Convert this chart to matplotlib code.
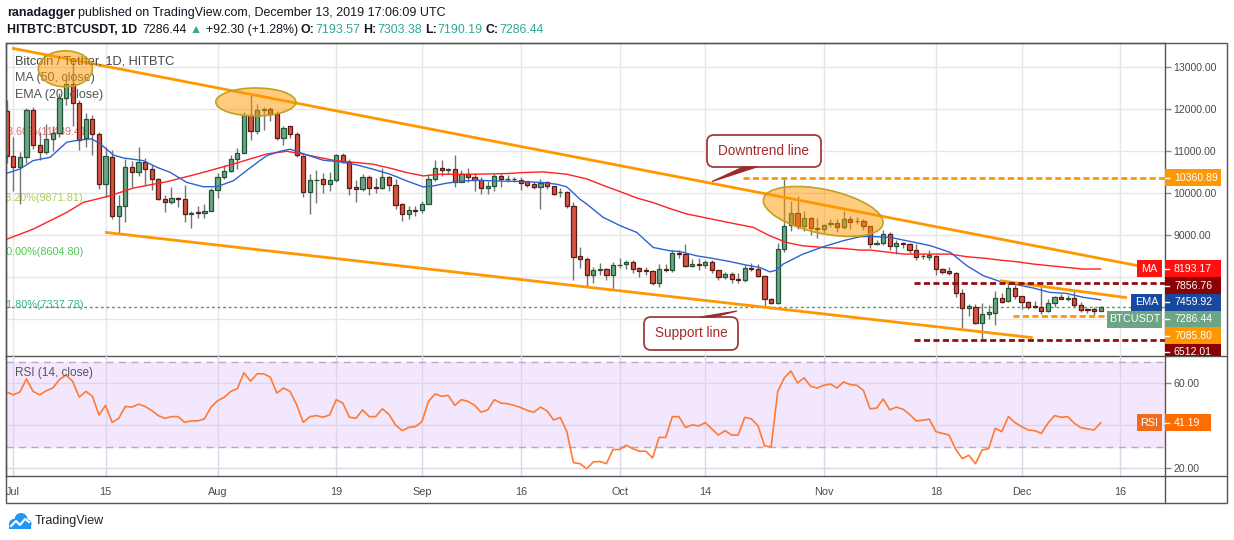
import numpy as np
import matplotlib
matplotlib.use("Agg")
import matplotlib.pyplot as plt
from matplotlib.patches import Rectangle, Ellipse, FancyBboxPatch, Polygon, Circle
from matplotlib.lines import Line2D
from matplotlib.transforms import IdentityTransform, Bbox

FONT = ['Liberation Sans', 'DejaVu Sans']
plt.rcParams['font.family'] = FONT

W, H = 1234, 540

# ---- 日线 K 线 (2019-06-30 ~ 2019-12-13), 第一根 = 第 -1 天 ----
first_day = -1
opens = [
    11950, 10887, 10609, 10863, 11960, 11141, 10966, 11284, 11427, 12263, 12582, 12143, 11300, 11761, 11400, 10211,
    10863, 9456, 9695, 10609, 10505, 10744, 10569, 10330, 9853, 9774, 9877, 9860, 9490, 9551, 9512, 9575,
    10068, 10386, 10513, 10807, 10950, 11841, 11483, 11976, 12000, 11880, 11308, 11580, 11397, 10881, 10031, 10301,
    10325, 10206, 10301, 10897, 10746, 10143, 10087, 10381, 10143, 10127, 10381, 10182, 9730, 9492, 9595,
    9587, 9730, 10325, 10587, 10555, 10563, 10270, 10444, 10381, 10301, 10111, 10158, 10405, 10325, 10320,
    10317, 10277, 10206, 10143, 10261, 10166, 10023, 10023, 9682, 8500, 8426, 8044, 8164, 8187, 8044,
    8283, 8307, 8362, 8211, 8160, 8148, 7853, 8203, 8164, 8577, 8545, 8267, 8307, 8283, 8362, 8164,
    7997, 8068, 7960, 7941, 8227, 8187, 8020, 7488, 7392, 8664, 9237, 9523, 9213, 9404, 9157,
    9141, 9261, 9292, 9197, 9380, 9323, 9339, 9204, 8784, 8816, 9022, 8737, 8816, 8776, 8642,
    8490, 8483, 8507, 8190, 8135, 8095, 7620, 7263, 7295, 6899, 7121, 7137, 7501, 7422, 7739,
    7549, 7414, 7303, 7295, 7200, 7374, 7517, 7469, 7501, 7335, 7240, 7232, 7193.57,
]
highs = [
    12200, 11324, 10980, 12010, 12050, 11450, 11640, 11600, 12380, 12800, 13200, 12200, 11900, 11850, 11450, 11100,
    11030, 9950, 10800, 10750, 11080, 10820, 10670, 10360, 9950, 10150, 9900, 10180, 9580, 9700, 9730, 10110,
    10470, 10660, 10900, 11070, 11920, 12320, 12120, 12050, 12050, 11950, 11600, 11600, 11450, 10900, 10440, 10540,
    10470, 10500, 10930, 10950, 10800, 10300, 10450, 10420, 10350, 10600, 10400, 10320, 9750, 9680, 9690,
    9800, 10440, 10790, 10780, 10600, 10900, 10540, 10590, 10480, 10380, 10290, 10450, 10440, 10420, 10380,
    10370, 10280, 10250, 10320, 10280, 10170, 10120, 10050, 9790, 8720, 8480, 8240, 8330, 8220, 8350,
    8450, 8400, 8400, 8240, 8230, 8170, 8300, 8320, 8650, 8640, 8780, 8420, 8450, 8400, 8410, 8170,
    8120, 8110, 8100, 8290, 8330, 8300, 8040, 7500, 8800, 10374, 9800, 9920, 9560, 9430, 9400,
    9270, 9380, 9380, 9560, 9460, 9420, 9370, 9220, 8870, 9120, 9060, 8880, 8830, 8800, 8790,
    8540, 8640, 8520, 8220, 8230, 8130, 7720, 7360, 7350, 7380, 7340, 7660, 7620, 7870, 7810,
    7560, 7430, 7420, 7770, 7490, 7560, 7600, 7570, 7690, 7400, 7270, 7300, 7303.38,
]
lows = [
    10700, 10052, 9734, 10700, 11050, 10790, 10930, 11000, 11330, 12080, 11585, 11030, 11100, 10900, 10100, 9893,
    9380, 9058, 9300, 10150, 10400, 10200, 10080, 9820, 9540, 9730, 9660, 9300, 9160, 9400, 9410, 9560,
    9870, 10330, 10500, 10560, 10950, 11250, 11410, 11500, 11700, 11250, 11150, 11300, 10850, 9910, 9508, 9770,
    9990, 10050, 10260, 10700, 9960, 9790, 10050, 9950, 10000, 10100, 10050, 9620, 9330, 9380, 9450,
    9520, 9730, 10290, 10400, 10450, 10150, 10250, 10250, 10050, 9980, 9970, 10040, 10150, 10270, 10270,
    10060, 10150, 10100, 9620, 10090, 9950, 9900, 9640, 7930, 8220, 7760, 7860, 8050, 7930, 7710,
    8220, 8200, 8100, 8000, 8050, 7800, 7770, 8110, 8120, 8450, 8230, 8230, 8160, 8220, 8100, 7930,
    7950, 7850, 7870, 7880, 8150, 7990, 7300, 7350, 7360, 8600, 9100, 9150, 9100, 9000, 8920,
    9050, 9200, 9080, 9150, 9140, 9250, 9110, 8700, 8760, 8760, 8650, 8560, 8700, 8580, 8400,
    8430, 8400, 8050, 8080, 8050, 7520, 6780, 7080, 6880, 6540, 7000, 6850, 7380, 7400, 7470,
    7240, 7250, 7270, 7130, 7170, 7300, 7470, 7420, 7300, 7170, 7150, 7100, 7190.19,
]
closes = [
    10887, 10609, 10863, 11960, 11141, 10966, 11284, 11427, 12263, 12582, 12143, 11267, 11761, 11400, 10211, 10887,
    9456, 9695, 10609, 10505, 10744, 10569, 10330, 9853, 9774, 9877, 9860, 9500, 9520, 9512, 9575, 10068,
    10370, 10513, 10807, 10950, 11841, 11483, 11976, 11990, 11880, 11308, 11547, 11404, 10897, 10031, 10301, 10317,
    10206, 10301, 10897, 10746, 10127, 10087, 10381, 10127, 10127, 10381, 10182, 9706, 9492, 9587, 9580,
    9730, 10325, 10587, 10555, 10563, 10270, 10444, 10381, 10301, 10111, 10158, 10405, 10325, 10330, 10330,
    10245, 10182, 10143, 10245, 10166, 9984, 10031, 9690, 8483, 8426, 8044, 8164, 8187, 8044, 8283,
    8291, 8362, 8203, 8148, 8148, 7853, 8187, 8164, 8569, 8545, 8267, 8307, 8283, 8362, 8164, 7997,
    8068, 7949, 7941, 8211, 8187, 8020, 7472, 7392, 8664, 9213, 9523, 9213, 9404, 9165, 9141,
    9245, 9292, 9197, 9380, 9316, 9339, 9204, 8784, 8816, 9022, 8737, 8816, 8776, 8642, 8483,
    8510, 8515, 8190, 8127, 8095, 7620, 7263, 7319, 6899, 7121, 7176, 7501, 7398, 7739, 7556,
    7398, 7295, 7279, 7200, 7374, 7517, 7469, 7501, 7335, 7224, 7216, 7194.14, 7286.44,
]

# MA(50) / EMA(20)，按图读取的采样点
ma_days = [-1, 3, 8.1, 10.6, 14.7, 18.2, 23.3, 28.3, 33.4, 38.5, 41.5, 44.5, 48.5, 52.1, 54.6, 57.2,
           59.7, 62.2, 64.8, 69.9, 74.9, 77.4, 80.4, 84.0, 86.0, 87.0, 89.5, 92.1, 94.6, 97.1, 99.6,
           102.2, 104.7, 107.2, 109.7, 112.3, 114.8, 117.3, 119.8, 122.9, 125.9, 128.5, 130.0, 133.1,
           135.1, 139.7, 142.2, 144.7, 147.2, 149.7, 152.3, 154.8, 157.3, 159.8, 162.4, 165]
ma_vals = [8900, 9138, 9536, 9774, 9933, 10116, 10267, 10466, 10688, 10927, 10990, 10905, 10778, 10722,
           10682, 10587, 10484, 10405, 10444, 10444, 10460, 10484, 10500, 10444, 10370, 10334, 10180,
           10030, 9880, 9770, 9630, 9499, 9420, 9340, 9261, 9181, 8982, 8823, 8744, 8704, 8680, 8641,
           8642, 8586, 8546, 8546, 8546, 8483, 8451, 8404, 8364, 8309, 8269, 8230, 8190, 8193.17]
ema_days = [-1, 1, 3, 5.6, 8.1, 10.1, 11.9, 13.2, 15.2, 16.7, 19.7, 21.8, 23.8, 26.3, 28.8, 30.9, 33.4,
            35.4, 37.4, 38.5, 40.5, 42.0, 44.5, 47.0, 49.6, 52.1, 54.6, 57.2, 59.7, 62.2, 63.7, 65.7,
            68.3, 70.3, 73.3, 77.4, 80.4, 82.5, 84.0, 86.0, 87.0, 89.5, 92.1, 94.6, 97.1, 99.6, 101.1,
            103.7, 106.2, 108.7, 111.3, 113.3, 114.8, 115.8, 116.8, 119.8, 122.9, 125.9, 128.5, 130.0,
            133.1, 136.1, 139.2, 142.2, 144.7, 147.2, 149.7, 152.3, 154.8, 157.3, 159.8, 162.4, 165]
ema_vals = [10466, 10569, 10768, 10847, 11205, 11260, 11284, 11165, 10900, 10831, 10768, 10609, 10490,
            10251, 10148, 10148, 10290, 10530, 10768, 10887, 10990, 11040, 10905, 10778, 10738, 10667,
            10563, 10444, 10285, 10143, 10166, 10230, 10285, 10301, 10285, 10270, 10246, 10206, 10143,
            9849, 9738, 9420, 9221, 9062, 8704, 8625, 8609, 8505, 8442, 8370, 8283, 8227, 8124, 8164,
            8307, 8545, 8720, 8863, 8959, 8966, 8942, 8847, 8744, 8586, 8269, 8032, 7897, 7818, 7739,
            7636, 7612, 7517, 7459.92]

# RSI(14)，从第 -1 天起每日一值
rsi_vals = [
    55.7, 54.4, 55.7, 61.9, 56.0, 54.4, 56.3, 57.6, 61.6, 63.7, 60.8, 53.3, 56.0, 53.7, 44.9, 49.4,
    41.4, 43.3, 48.9, 48.6, 50.0, 48.9, 47.0, 44.6, 43.3, 44.1, 44.1, 41.4, 42.1, 42.1, 43.0, 48.6,
    51.6, 53.2, 56.0, 57.3, 64.8, 60.8, 64.3, 64.3, 62.7, 55.2, 57.6, 56.0, 49.7, 41.4, 44.1, 44.6,
    43.8, 44.9, 52.1, 50.5, 43.8, 43.3, 47.3, 44.1, 44.1, 47.8, 45.2, 40.2, 37.5, 39.0, 39.4,
    41.7, 51.3, 54.8, 53.7, 54.1, 49.4, 52.1, 51.3, 49.4, 46.2, 47.3, 52.1, 50.5, 50.2, 49.4,
    48.4, 47.0, 46.2, 48.6, 46.8, 42.5, 43.7, 37.0, 22.4, 21.9, 19.5, 22.7, 23.0, 21.9, 28.6,
    28.6, 30.6, 29.0, 27.8, 27.8, 24.6, 34.3, 34.3, 44.1, 44.1, 39.0, 40.2, 39.7, 41.3, 38.3, 35.4,
    37.5, 35.4, 35.4, 43.8, 43.0, 39.8, 30.3, 29.8, 56.0, 62.4, 65.6, 60.0, 62.4, 58.4, 57.6,
    58.9, 59.5, 57.6, 60.5, 59.2, 58.9, 56.5, 47.8, 48.1, 52.4, 47.3, 48.6, 47.6, 45.2, 42.1,
    42.4, 42.9, 37.0, 36.2, 35.4, 28.7, 24.3, 25.9, 21.9, 28.3, 29.0, 38.6, 37.0, 44.1, 41.3,
    39.4, 37.8, 37.5, 36.2, 41.0, 44.6, 43.8, 44.1, 41.0, 38.9, 38.3, 37.8, 41.19,
]

tick_days = [0, 14, 31, 49, 62, 77, 92, 105, 123, 140, 153, 168]
tick_labels = ['Jul', '15', 'Aug', '19', 'Sep', '16', 'Oct', '14', 'Nov', '18', 'Dec', '16']
price_ticks = [7000, 8000, 9000, 10000, 11000, 12000, 13000]

fib_labels = ['23.60%(11439.41)', '38.20%(9871.81)', '50.00%(8604.80)', '61.80%(7337.78)']
fib_prices = [11439.41, 9871.81, 8604.80, 7337.78]
fib_colors = ['#e06c6c', '#a9cf54', '#4fc94f', '#30b88a']

level_high = 10360.89
level_mid = 7856.76
level_low = 7085.80
level_floor = 6512.01
ma_last, ema_last, last_close, rsi_last = 8193.17, 7459.92, 7286.44, 41.19

# ---- 画布与坐标轴 ----
fig = plt.figure(figsize=(W / 100, H / 100), dpi=100)
fig.patch.set_facecolor('white')


def rect(x0, y0, x1, y1):
    return [x0 / W, 1 - y1 / H, (x1 - x0) / W, (y1 - y0) / H]


def P(x, y):
    # 顶部为原点的像素坐标 -> 显示坐标
    return (x, H - y)


ax = fig.add_axes(rect(6, 43, 1165, 356))
ax_rsi = fig.add_axes(rect(6, 356, 1165, 476), sharex=ax)

X0, DX = 13.3, 6.59
PY = 0.042075
ax.set_xlim((6 - X0) / DX, (1165 - X0) / DX)
ax.set_ylim(9000 - (356 - 235) / PY, 9000 + (235 - 43) / PY)
ax_rsi.set_ylim(16.1, 72.7)

FRAME = '#555555'
for a in (ax, ax_rsi):
    for s in a.spines.values():
        s.set_color(FRAME)
        s.set_linewidth(1)
    a.set_facecolor('none')
ax_rsi.spines['top'].set_visible(False)

ax.set_xticks(tick_days)
ax.tick_params(axis='x', length=0, labelbottom=False)
ax.grid(True, color='#e6e6e6', lw=1)
ax.set_axisbelow(True)
ax.yaxis.tick_right()
ax.set_yticks(price_ticks)
ax.set_yticklabels(['' if v < 9000 else f'{v:.2f}' for v in price_ticks])
ax.tick_params(axis='y', length=4, width=1, color='#8d8d8d', labelsize=7.6,
               labelcolor='#4a4a4a', pad=2)

ax_rsi.set_xticks(tick_days, tick_labels)
ax_rsi.tick_params(axis='x', length=0, pad=8, labelsize=7.8, labelcolor='#4a4a4a')
ax_rsi.yaxis.tick_right()
ax_rsi.set_yticks([20, 40, 60])
ax_rsi.set_yticklabels(['20.00', '', '60.00'])
ax_rsi.tick_params(axis='y', length=4, width=1, color='#8d8d8d', labelsize=7.6,
                   labelcolor='#4a4a4a', pad=2)
ax_rsi.grid(True, color='#ddd6e6', lw=1)
ax_rsi.set_axisbelow(True)

# ---- K 线 ----
days = np.arange(first_day, first_day + len(closes))
o, h, l, c = map(np.array, (opens, highs, lows, closes))
up = c >= o
ax.vlines(days, l, h, color='#737375', lw=1, zorder=2)
ax.bar(days[up], c[up] - o[up], bottom=o[up], width=0.64, color='#6ba583',
       edgecolor='#225437', lw=0.9, zorder=3)
ax.bar(days[~up], o[~up] - c[~up], bottom=c[~up], width=0.64, color='#d75442',
       edgecolor='#5b1a13', lw=0.9, zorder=3)

ax.plot(ma_days, ma_vals, color='#ff2020', lw=1, zorder=4)
ax.plot(ema_days, ema_vals, color='#2f62d0', lw=1, zorder=4)

# 斐波那契标签 (左侧被裁掉一部分)
fib_right = [90, 83.5, 84, 84]
for lab, pr, col, xr in zip(fib_labels, fib_prices, fib_colors, fib_right):
    ax.text((xr - X0) / DX, pr, lab, color=col, fontsize=7.8, ha='right', va='center',
            zorder=1.5, clip_on=True)

# 现价虚线
ax.axhline(last_close, color='#4e9a6a', lw=1, ls=(0, (2, 2)), zorder=2.5)

# 趋势线
ORANGE = '#ff9800'
DARKRED = '#8e1010'
ax.plot([-0.2, 171.0], [13440, 8260], color=ORANGE, lw=2, zorder=5, solid_capstyle='butt')
ax.plot([13.9, 154.7], [9064, 6560], color=ORANGE, lw=2, zorder=5, solid_capstyle='butt')
ax.plot([149.7, 169.0], [7914, 7510], color=ORANGE, lw=2, zorder=5, solid_capstyle='butt')

xr_end = (1165 - X0) / DX
ax.plot([110.7, xr_end], [level_high] * 2, color=ORANGE, lw=2, ls=(0, (2.2, 1.2)), zorder=5)
ax.plot([136.7, xr_end], [level_mid] * 2, color=DARKRED, lw=2, ls=(0, (2.2, 1.2)), zorder=5)
ax.plot([136.7, xr_end], [level_floor] * 2, color=DARKRED, lw=2, ls=(0, (2.2, 1.2)), zorder=5)
ax.plot([151.7, 166.0], [level_low] * 2, color=ORANGE, lw=2, ls=(0, (2.2, 1.2)), zorder=5)

# 图例文字
ID = IdentityTransform()
ax.text(*P(15, 61), 'Bitcoin / Tether, 1D, HITBTC', transform=ID, fontsize=9.2,
        color='#454545', va='center', zorder=5.5)
ax.text(*P(15, 78), 'MA (50, close)', transform=ID, fontsize=9, color='#555555',
        va='center', zorder=5.5)
ax.text(*P(15, 95), 'EMA (20, close)', transform=ID, fontsize=9, color='#555555',
        va='center', zorder=5.5)
ax_rsi.text(*P(15, 373), 'RSI (14, close)', transform=ID, fontsize=8.5, color='#555555',
            va='center', zorder=5)

# 椭圆标注
ell_spec = [(7.9, 12950, 54, 36, 0), (36.8, 12161, 80, 28, 0), (122.9, 9560, 122, 44, -12)]
for d, pr, w, hh, ang in ell_spec:
    cx, cy = ax.transData.transform((d, pr))
    ax.add_patch(Ellipse((cx, cy), w, hh, angle=ang, transform=ID, fc=(1.0, 0.6, 0.0, 0.5),
                         ec=(0.76, 0.63, 0.12), lw=1.2, zorder=6))


# 标注框
def callout(x0, y0, x1, y1, text, pointer):
    box = FancyBboxPatch(P(x0, y1), x1 - x0, y1 - y0, boxstyle='round,pad=0,rounding_size=7',
                         transform=ID, fc='white', ec='#a33b3b', lw=1.3, zorder=7)
    ax.add_patch(box)
    ax.add_patch(Polygon([P(*p) for p in pointer], closed=True, transform=ID,
                         fc='#9b2a2a', ec='#9b2a2a', lw=0.8, zorder=7.5))
    ax.text(*P((x0 + x1) / 2, (y0 + y1) / 2), text, transform=ID, fontsize=9.8,
            color='#a52a2a', ha='center', va='center', zorder=8)


callout(707, 135, 821, 167, 'Downtrend line', [(743, 167), (757, 167), (712, 181.5)])
callout(644, 317, 738, 350, 'Support line', [(700, 317), (714, 317), (737, 311)])

# RSI 面板
ax_rsi.axhspan(30, 70, color='#f3e7fd', zorder=0)
for lv in (30, 70):
    ax_rsi.axhline(lv, color='#b6aabf', lw=1, ls=(0, (5, 4)), zorder=1)
rsi_days = np.arange(first_day, first_day + len(rsi_vals))
ax_rsi.plot(rsi_days, rsi_vals, color='#ff7b33', lw=1.2, zorder=3)

# ---- 外框 ----
fig.add_artist(Rectangle(P(6, 503), 1221, 460, transform=ID, fill=False, ec=FRAME, lw=1))
fig.add_artist(Line2D([1165, 1227], [H - 356, H - 356], transform=ID, color=FRAME, lw=1))
fig.add_artist(Line2D([1165, 1227], [H - 476, H - 476], transform=ID, color=FRAME, lw=1))
fig.add_artist(Line2D([1165, 1165], [H - 503, H - 476], transform=ID, color=FRAME, lw=1))

# ---- 价格轴标签框 ----
main_clip = Bbox.from_extents(1100, H - 356, 1227, H - 43)


def axis_box(yc, text, color, x0=1165, w=56, tag=None, tag_x=None, tag_color=None, clip=None):
    r = Rectangle(P(x0, yc + 8.5), w, 17, transform=ID, fc=color, ec='none', zorder=3)
    fig.add_artist(r)
    tk = Line2D([x0, x0 + 4], [H - yc, H - yc], transform=ID, color='white', lw=1, zorder=4)
    fig.add_artist(tk)
    t = fig.text(*P(x0 + 9, yc), text, transform=ID, color='white', fontsize=7.6,
                 va='center', ha='left', zorder=5)
    arts = [r, tk, t]
    if tag:
        tr = Rectangle(P(tag_x, yc + 8.5), 1162 - tag_x, 17, transform=ID, fc=tag_color,
                       ec='none', zorder=3)
        fig.add_artist(tr)
        tt = fig.text(*P((tag_x + 1162) / 2, yc), tag, transform=ID, color='white',
                      fontsize=7.8, va='center', ha='center', zorder=5)
        arts += [tr, tt]
    if clip is not None:
        for a in arts:
            a.set_clip_box(clip)
            a.set_clip_on(True)


labels = [(level_high, '#ff9800', None, None), (ma_last, '#ff1010', 'MA', 1137),
          (level_mid, '#8b0000', None, None), (ema_last, '#1848a0', 'EMA', 1131),
          (last_close, '#6ba583', 'BTCUSDT', 1107), (level_low, '#ff9800', None, None),
          (level_floor, '#8b0000', None, None)]
prev = -100
for val, col, tag, tx in labels:
    ypx = H - ax.transData.transform((0, val))[1]
    ypx = max(ypx, prev + 16.7)
    prev = ypx
    axis_box(ypx, f'{val:.2f}', col, tag=tag, tag_x=tx, tag_color=col, clip=main_clip)

rsi_y = H - ax_rsi.transData.transform((0, rsi_last))[1]
axis_box(rsi_y, f'{rsi_last:.2f}', '#ff6d00', w=46, tag='RSI', tag_x=1137, tag_color='#f26b1d')

# ---- 顶部信息 ----
renderer = fig.canvas.get_renderer()


def draw_runs(x, y, runs, size):
    for txt, weight, color, gap in runs:
        t = fig.text(*P(x, y), txt, transform=ID, fontsize=size, fontweight=weight,
                     color=color, va='center', ha='left')
        x += t.get_window_extent(renderer).width + gap


DARK = '#131722'
TEAL = '#2fa89b'
sp = 3.3
draw_runs(7, 13, [('ranadagger', 'bold', DARK, sp),
                  ('published on TradingView.com, December 13, 2019 17:06:09 UTC', 'normal', DARK, 0)],
          9.0)
draw_runs(7, 30, [('HITBTC:BTCUSDT, 1D', 'bold', DARK, sp + 2),
                  ('7286.44', 'normal', DARK, sp),
                  ('▲', 'normal', TEAL, sp),
                  ('+92.30 (+1.28%)', 'normal', DARK, sp),
                  ('O:', 'bold', DARK, 0.5), ('7193.57', 'normal', TEAL, sp),
                  ('H:', 'bold', DARK, 0.5), ('7303.38', 'normal', TEAL, sp),
                  ('L:', 'bold', DARK, 0.5), ('7190.19', 'normal', TEAL, sp),
                  ('C:', 'bold', DARK, 0.5), ('7286.44', 'normal', TEAL, 0)],
          8.95)

# ---- 底部 logo ----
BLUE = '#2196f3'
for (cx, cy, r) in [(14, 524, 5), (21, 519.5, 6.5), (27, 524, 4.5)]:
    fig.add_artist(Circle(P(cx, cy), r, transform=ID, fc=BLUE, ec='none'))
fig.add_artist(Rectangle(P(9, 529), 22, 5, transform=ID, fc=BLUE, ec='none'))
fig.add_artist(Line2D([11, 16, 20, 25, 29], [H - 526, H - 521, H - 525, H - 519, H - 522],
                      transform=ID, color='white', lw=1.5))
fig.text(*P(35, 521), 'TradingView', transform=ID, fontsize=9, color='#222222',
         va='center', ha='left')

fig.savefig('out.png', dpi=100, facecolor='white')
